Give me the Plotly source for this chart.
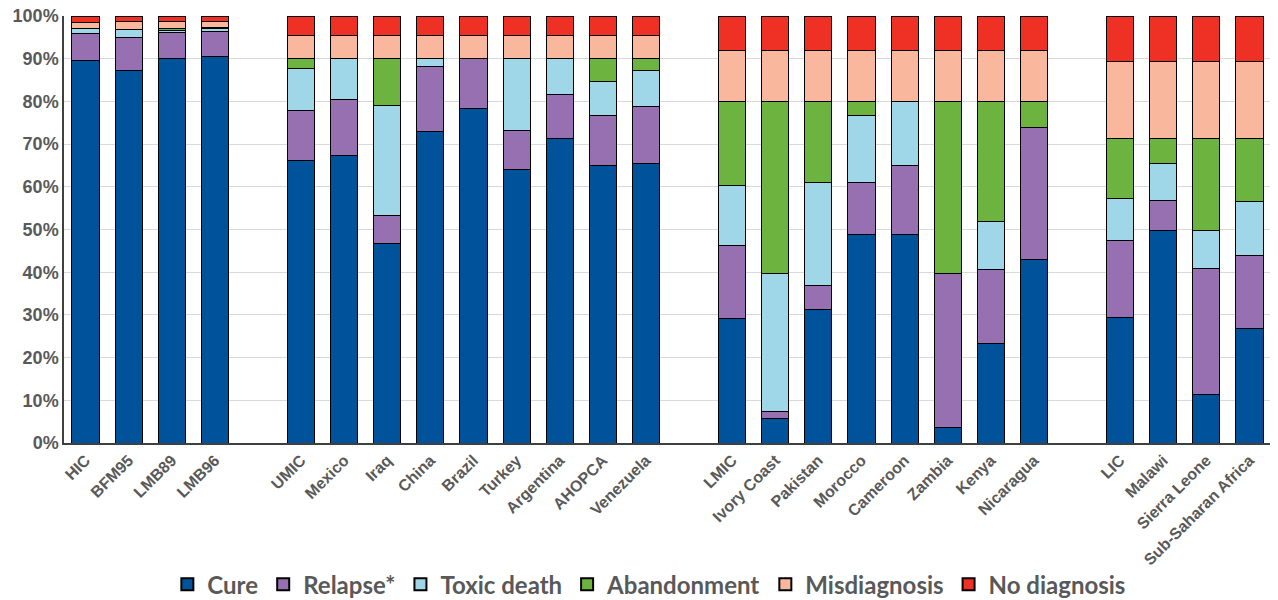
import plotly.graph_objects as go

# ---- data ----
categories = ["HIC", "BFM95", "LMB89", "LMB96",
              "UMIC", "Mexico", "Iraq", "China", "Brazil", "Turkey", "Argentina", "AHOPCA", "Venezuela",
              "LMIC", "Ivory Coast", "Pakistan", "Morocco", "Cameroon", "Zambia", "Kenya", "Nicaragua",
              "LIC", "Malawi", "Sierra Leone", "Sub-Saharan Africa"]
group_sizes = [4, 9, 8, 4]

cure = [89.5, 87.3, 90.0, 90.6,
        66.2, 67.3, 46.8, 73.0, 78.3, 64.0, 71.4, 65.0, 65.5,
        29.1, 5.8, 31.2, 48.9, 48.9, 3.6, 23.3, 43.0,
        29.3, 49.8, 11.4, 26.8]
relapse = [6.5, 7.7, 6.2, 5.8,
           11.7, 13.1, 6.5, 15.1, 11.8, 9.2, 10.3, 11.8, 13.3,
           17.2, 1.5, 5.6, 12.2, 16.2, 36.2, 17.4, 30.8,
           18.1, 7.0, 29.5, 17.2]
toxic_death = [1.0, 1.9, 0.5, 0.6,
               9.7, 9.7, 25.8, 2.0, 0.0, 16.9, 8.4, 7.9, 8.5,
               14.1, 32.5, 24.1, 15.6, 14.9, 0.0, 11.2, 0.0,
               9.9, 8.7, 8.9, 12.5]
abandonment = [0.0, 0.0, 0.3, 0.2,
               2.5, 0.0, 11.0, 0.0, 0.0, 0.0, 0.0, 5.4, 2.8,
               19.6, 40.2, 19.1, 3.3, 0.0, 40.2, 28.1, 6.2,
               14.1, 5.9, 21.6, 14.9]
misdiagnosis = [1.5, 1.7, 1.6, 1.4,
                5.4, 5.4, 5.4, 5.4, 5.4, 5.4, 5.4, 5.4, 5.4,
                11.9, 11.9, 11.9, 11.9, 11.9, 11.9, 11.9, 11.9,
                17.9, 17.9, 17.9, 17.9]
no_diagnosis = [1.5, 1.4, 1.4, 1.4,
                4.5, 4.5, 4.5, 4.5, 4.5, 4.5, 4.5, 4.5, 4.5,
                8.1, 8.1, 8.1, 8.1, 8.1, 8.1, 8.1, 8.1,
                10.7, 10.7, 10.7, 10.7]

series_names = ["Cure", "Relapse*", "Toxic death", "Abandonment", "Misdiagnosis", "No diagnosis"]
series_values = [cure, relapse, toxic_death, abandonment, misdiagnosis, no_diagnosis]
colors = ["#00539B", "#9670B0", "#9FD6E8", "#6DB33F", "#F9B79E", "#EE3124"]

# ---- build x with blank spacer slots between groups ----
def pad(values):
    out, i = [], 0
    for g, n in enumerate(group_sizes):
        if g > 0:
            out.append(None)
        out.extend(values[i:i + n])
        i += n
    return out

x_cats = []
i = 0
for g, n in enumerate(group_sizes):
    if g > 0:
        x_cats.append(" " * g)
    x_cats.extend(categories[i:i + n])
    i += n

fig = go.Figure()
for name, vals, col in zip(series_names, series_values, colors):
    fig.add_trace(go.Bar(
        x=x_cats, y=pad(vals), name=name,
        marker=dict(color=col, line=dict(color="#000000", width=1)),
    ))

axis_font = dict(family="Liberation Sans, Arial, sans-serif", size=16, color="#595959", weight="bold")

# page body has an 8px margin, so the figure is sized to fill the rest of the window
fig.update_layout(
    barmode="stack",
    barnorm="percent",
    bargap=0.37,
    width=1270, height=592,
    margin=dict(l=56, r=7, t=8, b=157, autoexpand=False),
    plot_bgcolor="white",
    paper_bgcolor="white",
    showlegend=True,
    legend=dict(
        orientation="h", xref="container", x=0.505, xanchor="center",
        yref="container", y=0.026, yanchor="middle",
        font=dict(family="Lato, Open Sans, sans-serif", size=24, color="#595959", weight="bold"),
        traceorder="normal", itemsizing="constant",
    ),
    xaxis=dict(
        type="category", categoryorder="array", categoryarray=x_cats,
        tickangle=-45, tickfont=axis_font, automargin=False,
        showline=True, linecolor="#404040", linewidth=1.5,
        showgrid=False, ticks="",
    ),
    yaxis=dict(
        range=[0, 100], dtick=10, ticksuffix="%", automargin=False,
        ticklabeloverflow="allow",
        tickfont=dict(family="Liberation Sans, Arial, sans-serif", size=18, color="#595959", weight="bold"),
        showgrid=True, gridcolor="#D9D9D9", gridwidth=1,
        showline=True, linecolor="#404040", linewidth=1.5, mirror=True,
        zeroline=False, ticks="",
    ),
)

fig.write_html("out.html")
